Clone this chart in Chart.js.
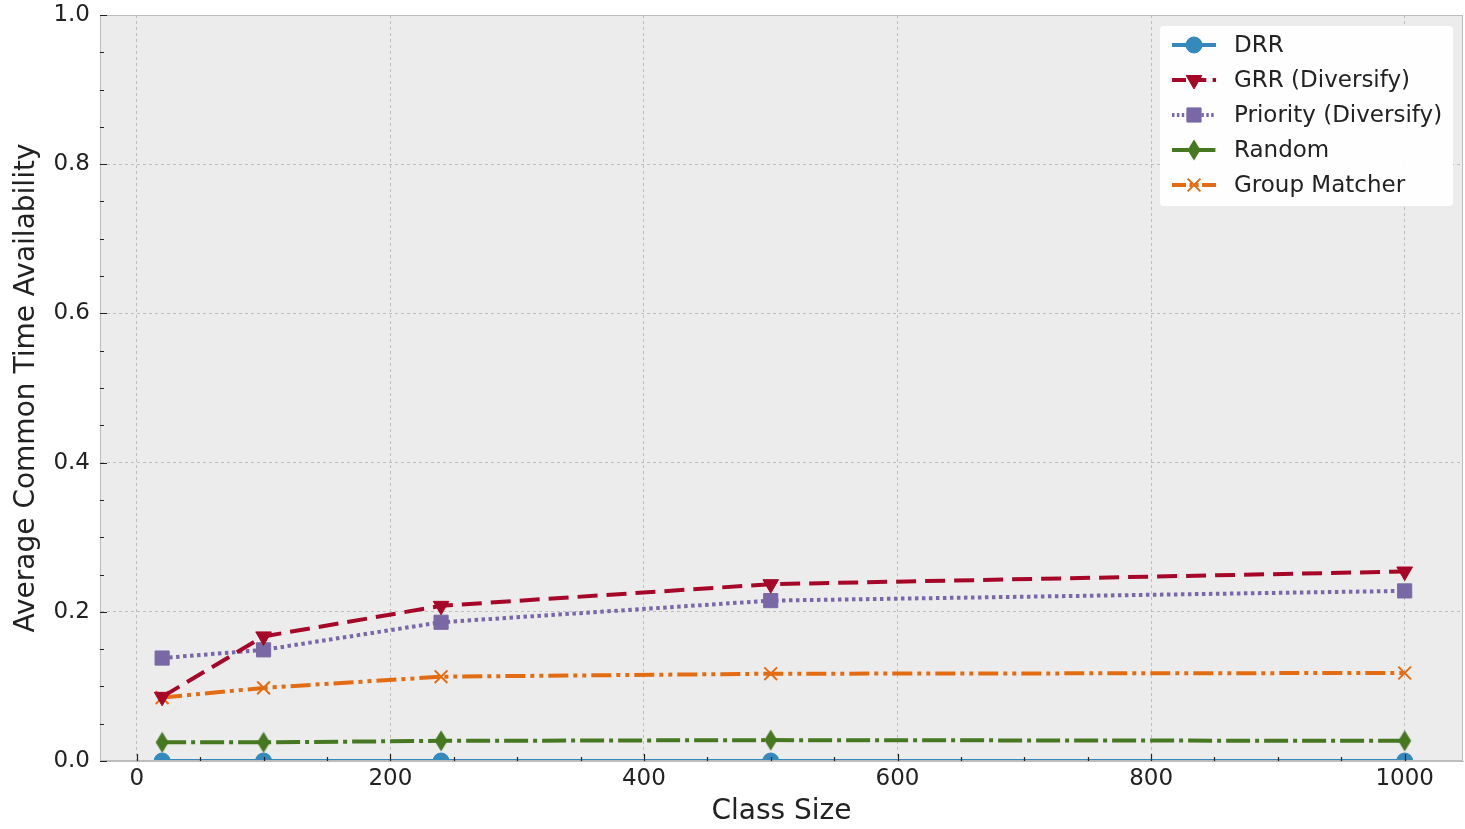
<!DOCTYPE html>
<html lang="en">
<head>
    <meta charset="UTF-8">
    <title>Average Common Time Availability</title>
    <script src="https://cdn.jsdelivr.net/npm/chart.js"></script>
    <style>
        body { margin: 0; background: #fff; }
        #wrap { width: 1465px; height: 829px; }
    </style>
</head>
<body>
    <div id="wrap"><canvas id="availChart" width="1465" height="829"></canvas></div>

    <script>
        // data
        const classSizes = [20, 100, 240, 500, 1000];
        const drr = [0, 0, 0, 0, 0];
        const grr = [0.086, 0.167, 0.208, 0.237, 0.254];
        const priority = [0.138, 0.149, 0.186, 0.215, 0.228];
        const random = [0.025, 0.025, 0.027, 0.028, 0.027];
        const groupMatcher = [0.085, 0.098, 0.113, 0.117, 0.118];
        const xTicks = [0, 200, 400, 600, 800, 1000];
        const yTicks = [0, 0.2, 0.4, 0.6, 0.8, 1.0];

        const toPoints = arr => arr.map((v, i) => ({ x: classSizes[i], y: v }));

        // thin diamond marker (matplotlib 'd'), chart.js has no such style
        function thinDiamond(color) {
            const c = document.createElement('canvas');
            c.width = 16; c.height = 22;
            const g = c.getContext('2d');
            g.fillStyle = color;
            g.beginPath();
            g.moveTo(8, 0.5); g.lineTo(14.5, 11); g.lineTo(8, 21.5); g.lineTo(1.5, 11);
            g.closePath();
            g.fill();
            return c;
        }

        const series = [
            { label: 'DRR', data: drr, color: '#348ABD', dash: [], style: 'circle', rot: 0, r: 8 },
            { label: 'GRR (Diversify)', data: grr, color: '#A60628', dash: [20, 9], style: 'triangle', rot: 180, r: 9 },
            { label: 'Priority (Diversify)', data: priority, color: '#7A68A6', dash: [3.5, 3.5], style: 'rect', rot: 0, r: 10 },
            { label: 'Random', data: random, color: '#467821', dash: [24, 5, 4, 5], style: thinDiamond('#467821'), rot: 0, r: 10 },
            { label: 'Group Matcher', data: groupMatcher, color: '#E36C12', dash: [20, 5, 4, 5, 4, 5], style: 'crossRot', rot: 0, r: 9 }
        ];

        // frame and tick marks inside the axes, like matplotlib
        const innerTicks = {
            id: 'innerTicks',
            afterDatasetsDraw(chart) {
                const { ctx, chartArea: a, scales } = chart;
                ctx.save();
                ctx.strokeStyle = '#bcbcbc';
                ctx.lineWidth = 1;
                ctx.strokeRect(a.left + 0.5, a.top + 0.5, a.right - a.left - 1, a.bottom - a.top - 1);
                ctx.strokeStyle = '#222';
                ctx.lineWidth = 1.2;
                ctx.beginPath();
                for (let v = 0; v <= 1000; v += 50) {
                    const x = Math.round(scales.x.getPixelForValue(v)) + 0.5;
                    const len = v % 200 === 0 ? 7 : 4;
                    ctx.moveTo(x, a.bottom); ctx.lineTo(x, a.bottom - len);
                }
                for (let v = 0; v <= 1.0001; v += 0.05) {
                    const y = Math.round(scales.y.getPixelForValue(v)) + 0.5;
                    const major = Math.abs(v * 5 - Math.round(v * 5)) < 1e-6;
                    ctx.moveTo(a.left, y); ctx.lineTo(a.left + (major ? 7 : 4), y);
                }
                ctx.stroke();
                ctx.restore();
            }
        };

        // legend box in upper right corner of the plot
        const cornerLegend = {
            id: 'cornerLegend',
            afterDraw(chart) {
                const ctx = chart.ctx;
                ctx.save();
                ctx.fillStyle = 'rgba(255,255,255,0.95)';
                ctx.beginPath();
                ctx.roundRect(1160, 26, 293, 180, 4);
                ctx.fill();
                ctx.font = '23px "DejaVu Sans"';
                ctx.textBaseline = 'middle';
                series.forEach((s, i) => {
                    const y = 45 + i * 35;
                    ctx.strokeStyle = s.color;
                    ctx.lineWidth = 4;
                    ctx.setLineDash(s.dash.map(d => d * 0.7));
                    ctx.beginPath();
                    ctx.moveTo(1172, y); ctx.lineTo(1216, y);
                    ctx.stroke();
                    ctx.setLineDash([]);
                    ctx.fillStyle = s.color;
                    ctx.lineWidth = s.style === 'crossRot' ? 2 : 1;
                    Chart.helpers.drawPoint(ctx, { pointStyle: s.style, rotation: s.rot, radius: s.r, borderWidth: ctx.lineWidth }, 1194, y);
                    ctx.fillStyle = '#222';
                    ctx.fillText(s.label, 1234, y + 1);
                });
                ctx.restore();
            }
        };

        const plotBg = {
            id: 'plotBg',
            beforeDraw(chart) {
                const { ctx, chartArea: a } = chart;
                ctx.save();
                ctx.fillStyle = '#ececec';
                ctx.fillRect(a.left, a.top, a.right - a.left, a.bottom - a.top);
                ctx.restore();
            }
        };

        const ctx = document.getElementById('availChart').getContext('2d');
        new Chart(ctx, {
            type: 'line',
            data: {
                datasets: series.map(s => ({
                    label: s.label,
                    data: toPoints(s.data),
                    borderColor: s.color,
                    backgroundColor: s.color,
                    borderWidth: 4,
                    borderDash: s.dash,
                    pointStyle: s.style,
                    pointRotation: s.rot,
                    pointRadius: s.r,
                    pointBorderWidth: s.style === 'crossRot' ? 2 : 1,
                    tension: 0
                }))
            },
            options: {
                responsive: false,
                animation: false,
                layout: { autoPadding: false, padding: { top: 15, right: 2, left: 0, bottom: 0 } },
                plugins: { legend: { display: false }, tooltip: { enabled: false } },
                scales: {
                    x: {
                        type: 'linear',
                        min: -29,
                        max: 1046,
                        afterBuildTicks: axis => { axis.ticks = xTicks.map(v => ({ value: v })); },
                        afterFit: axis => { axis.height = 68; axis.paddingLeft = 0; axis.paddingRight = 0; },
                        ticks: { font: { size: 23, family: 'DejaVu Sans' }, color: '#222', padding: 4, maxRotation: 0, callback: v => String(v) },
                        grid: { color: '#bdbdbd', lineWidth: 1, drawTicks: false },
                        border: { color: '#bcbcbc', dash: [3, 3], width: 1 },
                        title: { display: true, text: 'Class Size', font: { size: 28, family: 'DejaVu Sans' }, color: '#222', padding: { top: 0, bottom: 0 } }
                    },
                    y: {
                        min: 0,
                        max: 1.0,
                        afterBuildTicks: axis => { axis.ticks = yTicks.map(v => ({ value: v })); },
                        afterFit: axis => { axis.width = 100; axis.paddingTop = 0; axis.paddingBottom = 0; },
                        ticks: { font: { size: 23, family: 'DejaVu Sans' }, color: '#222', padding: 10, callback: v => v.toFixed(1) },
                        grid: { color: '#bdbdbd', lineWidth: 1, drawTicks: false },
                        border: { color: '#bcbcbc', dash: [3, 3], width: 1 },
                        title: { display: true, text: 'Average Common Time Availability', font: { size: 28, family: 'DejaVu Sans' }, color: '#222', padding: { top: 10, bottom: 0 } }
                    }
                }
            },
            plugins: [plotBg, innerTicks, cornerLegend]
        });
    </script>
</body>
</html>
